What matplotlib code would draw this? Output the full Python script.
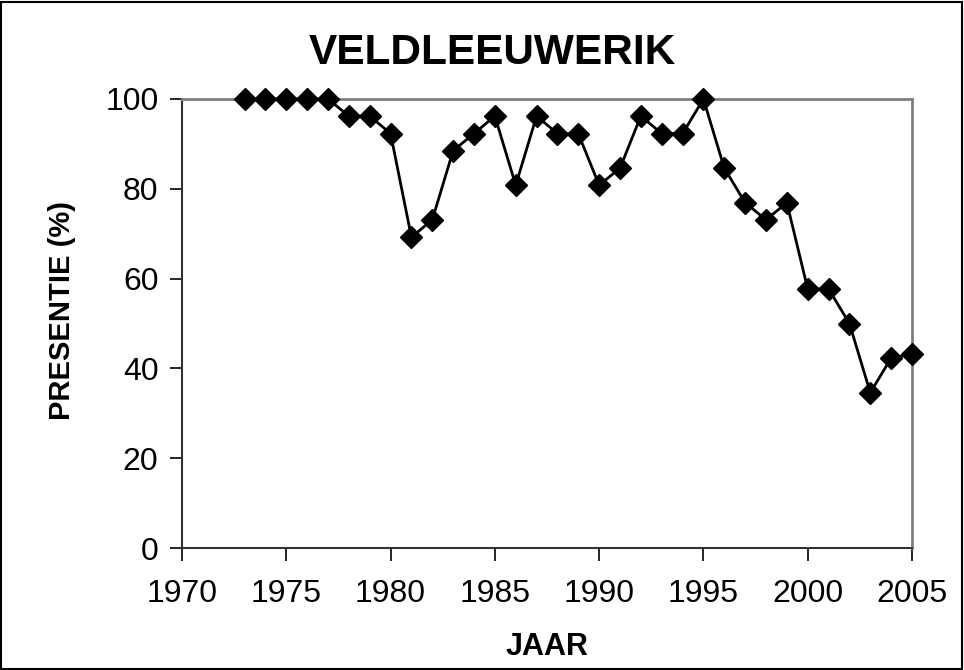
import matplotlib
matplotlib.use("Agg")
import matplotlib.pyplot as plt
from matplotlib.patches import Rectangle

plt.rcParams['font.family'] = ['Liberation Sans', 'DejaVu Sans']

years = list(range(1973, 2006))
presence = [100, 100, 100, 100, 100, 96.2, 96.2, 92.3, 69.2, 73.1,
            88.5, 92.3, 96.2, 80.8, 96.2, 92.3, 92.3, 80.8, 84.6, 96.2,
            92.3, 92.3, 100, 84.6, 76.9, 73.1, 76.9, 57.7, 57.7, 50.0,
            34.6, 42.3, 43.2]
x_ticks = [1970, 1975, 1980, 1985, 1990, 1995, 2000, 2005]
y_ticks = [0, 20, 40, 60, 80, 100]

fig = plt.figure(figsize=(9.64, 6.7), dpi=100)
ax = fig.add_axes([182/964, 1-548/670, (912-182)/964, (548-99)/670])

ax.plot(years, presence, color='black', lw=2, marker='D', ms=11,
        markerfacecolor='black', markeredgecolor='black', clip_on=False, zorder=3)

ax.set_xlim(1970, 2005)
ax.set_ylim(0, 100)
ax.set_xticks(x_ticks)
ax.set_yticks(y_ticks)
ax.tick_params(axis='both', direction='out', length=9, width=1.2, color='black',
               labelsize=23, pad=8)
ax.tick_params(axis='x', pad=13)

for s in ['top', 'right']:
    ax.spines[s].set_color('#808080')
    ax.spines[s].set_linewidth(2)
for s in ['left', 'bottom']:
    ax.spines[s].set_color('#333333')
    ax.spines[s].set_linewidth(1.5)

fig.text(492.5/964, 1-64/670, 'VELDLEEUWERIK', fontsize=30.5, fontweight='bold',
         ha='center', va='baseline')
ax.set_xlabel('JAAR', fontsize=22, fontweight='bold')
ax.set_ylabel('PRESENTIE (%)', fontsize=21, fontweight='bold')
ax.xaxis.set_label_coords(0.5, -(632-548)/449)
ax.yaxis.set_label_coords(-(182-76)/730, (548-310)/449)

fig.patches.append(Rectangle((1/964, 1/670), 1-3/964, 1-3/670, transform=fig.transFigure,
                             fill=False, edgecolor='black', lw=1.5))

fig.savefig('out.png', dpi=100)
